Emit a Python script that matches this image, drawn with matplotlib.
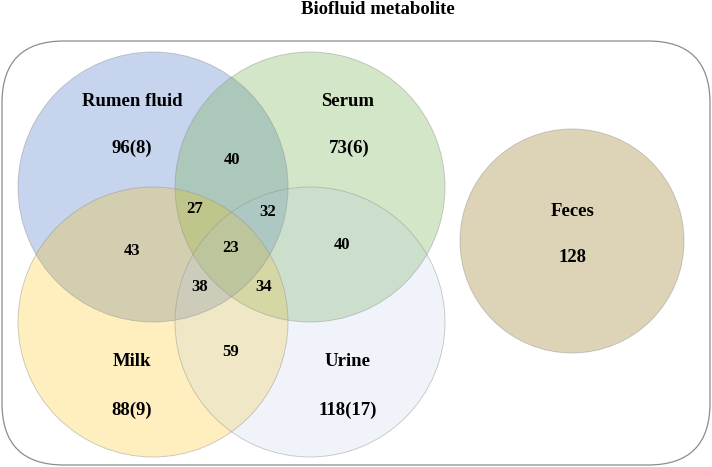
import matplotlib
matplotlib.use("Agg")
import matplotlib.pyplot as plt
from matplotlib.patches import Circle, FancyBboxPatch

# ---- data ----
set_names = ["Rumen fluid", "Serum", "Milk", "Urine", "Feces"]
set_unique = ["96(8)", "73(6)", "88(9)", "118(17)", "128"]
overlap_names = ["R&S", "R&M", "S&U", "M&U", "R&S&M", "R&S&U", "R&S&M&U", "R&M&U", "S&M&U"]
overlap_values = [40, 43, 40, 59, 27, 32, 23, 38, 34]
title = "Biofluid metabolite"

# ---- layout (pixel space) ----
W, H = 712, 467
fig = plt.figure(figsize=(W / 100, H / 100), dpi=100)
ax = fig.add_axes([0, 0, 1, 1])
ax.set_xlim(0, W)
ax.set_ylim(H, 0)
ax.set_aspect("equal")
ax.axis("off")

circle_centers = [(153, 187), (310, 187), (153, 322), (310, 322), (572, 241)]
circle_radii = [135, 135, 135, 135, 112]
circle_colors = ["#4472c4", "#70ad47", "#ffc000", "#b4c7e7", "#c9b98a"]
circle_alphas = [0.30, 0.30, 0.25, 0.20, 0.62]

# rounded frame
frame = FancyBboxPatch((2, 41), 708, 424,
                       boxstyle="round,pad=0,rounding_size=62",
                       facecolor="none", edgecolor="#8c8c8c", linewidth=0.9, zorder=1)
ax.add_patch(frame)

for (cx, cy), r, c, a in zip(circle_centers, circle_radii, circle_colors, circle_alphas):
    ax.add_patch(Circle((cx, cy), r, facecolor=c, alpha=a, edgecolor="none", zorder=2))
    ax.add_patch(Circle((cx, cy), r, facecolor="none", edgecolor="#909090",
                        linewidth=0.6, alpha=0.5, zorder=3))

font = dict(family="Liberation Serif", fontweight="bold", color="black",
            ha="center", va="center", zorder=5)

name_pos = [(132, 101), (348, 101), (132, 362), (348, 362), (573, 212)]
uniq_pos = [(132, 148), (349, 148), (132, 410), (348, 410), (573, 258)]
for name, (x, y) in zip(set_names, name_pos):
    ax.text(x, y, name, fontsize=13.5, **font)
for val, (x, y) in zip(set_unique, uniq_pos):
    ax.text(x, y, val, fontsize=13.5, **font)

ov_pos = [(232, 160), (132, 251), (342, 245), (231, 352), (195, 209),
          (268, 212), (231, 248), (200, 287), (264, 287)]
for v, (x, y) in zip(overlap_values, ov_pos):
    ax.text(x, y, str(v), fontsize=12, **font)

ax.text(378, 10, title, fontsize=13.5, **font)

fig.savefig("out.png", dpi=100)
